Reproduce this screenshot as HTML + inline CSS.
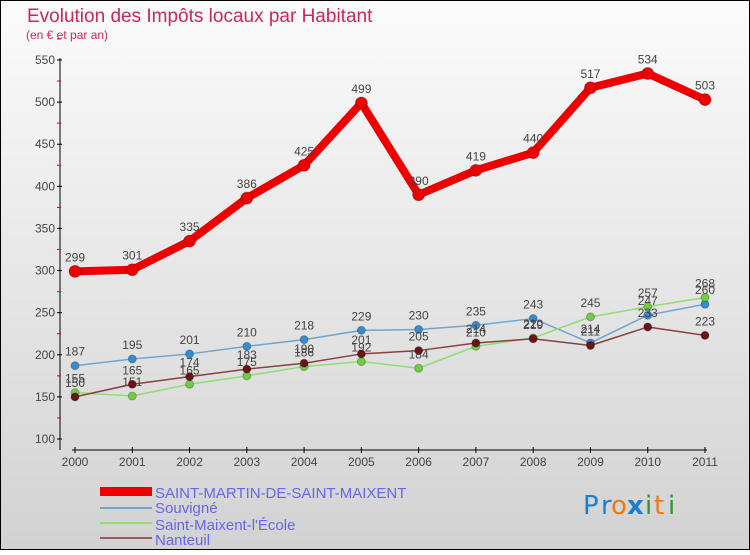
<!DOCTYPE html>
<html><head><meta charset="utf-8"><style>
body{margin:0}
#c{width:750px;height:550px;position:relative;font-family:"Liberation Sans",sans-serif;}
</style></head><body>
<div id="c">
<svg width="750" height="550" xmlns="http://www.w3.org/2000/svg" id="svg">
<defs><linearGradient id="bg" x1="0" y1="0" x2="0" y2="1"><stop offset="0" stop-color="#fbfbfb"/><stop offset="1" stop-color="#d2d2d2"/></linearGradient></defs>
<rect x="0.5" y="0.5" width="749" height="549" fill="url(#bg)" stroke="#000"/>
<text x="27" y="22" font-size="19" fill="#c8285a">Evolution des Impôts locaux par Habitant</text>
<text x="26" y="39" font-size="12" fill="#c8285a">(en € et par an)</text>
<g id="axes"></g><g id="series"></g>
<g>
<rect x="100" y="487" width="52" height="9" fill="#e00"/>
<line x1="100" y1="508" x2="152" y2="508" stroke="#6fa6d0" stroke-width="2"/>
<line x1="100" y1="523" x2="152" y2="523" stroke="#90dd70" stroke-width="2"/>
<line x1="100" y1="538" x2="152" y2="538" stroke="#9a5a5a" stroke-width="2"/>
<g font-size="15" fill="#6666ee">
<text x="155" y="498">SAINT-MARTIN-DE-SAINT-MAIXENT</text>
<text x="155" y="513">Souvigné</text>
<text x="155" y="530">Saint-Maixent-l'École</text>
<text x="155" y="545">Nanteuil</text>
</g></g>
<g font-size="26" font-family="'DejaVu Sans',sans-serif">
<text x="583" y="514" fill="#1b7fd0">P</text><text x="601" y="514" fill="#1b7fd0">r</text><text x="611" y="514" fill="#f07a10">o</text><text x="627" y="514" fill="#1b7fd0" font-weight="bold">x</text><text x="645" y="514" fill="#2a9a2a">i</text><text x="654" y="514" fill="#f07a10">t</text><text x="668" y="514" fill="#2a9a2a">i</text>
</g>
</svg></div>
<script>
const years=["2000","2001","2002","2003","2004","2005","2006","2007","2008","2009","2010","2011"];
const yTicks=[100,150,200,250,300,350,400,450,500,550];
const stMartin=[299,301,335,386,425,499,390,419,440,517,534,503];
const souvigne=[187,195,201,210,218,229,230,235,243,214,247,260];
const stMaixent=[155,151,165,175,186,192,184,210,220,245,257,268];
const nanteuil=[150,165,174,183,190,201,205,214,219,211,233,223];
const NS="http://www.w3.org/2000/svg";
function X(i){return 75+i*(705-75)/11;}
function Y(v){return 439-(v-100)*379/450;}
function mk(t,a,p){const e=document.createElementNS(NS,t);for(const k in a)e.setAttribute(k,a[k]);p.appendChild(e);return e;}
const ax=document.getElementById('axes');
mk('line',{x1:60,y1:58,x2:60,y2:450,stroke:'#000'},ax);
mk('line',{x1:72,y1:450,x2:707,y2:450,stroke:'#000'},ax);
yTicks.forEach(v=>{
 mk('line',{x1:57,y1:Y(v),x2:62,y2:Y(v),stroke:'#000'},ax);
 mk('line',{x1:57,y1:Y(v+25),x2:61,y2:Y(v+25),stroke:'#e00'},ax);
 const t=mk('text',{x:55,y:Y(v)+4,'font-size':12,fill:'#444','text-anchor':'end'},ax);
 t.textContent=v;
 
 
});
years.forEach((y,i)=>{
 mk('line',{x1:X(i),y1:447,x2:X(i),y2:453,stroke:'#000'},ax);
 const t=mk('text',{x:X(i),y:466,'font-size':12,fill:'#444','text-anchor':'middle'},ax);
 t.textContent=y;
 
 
});
const sg=document.getElementById('series');
function draw(vals,color,dot,w,r,name){
 const g=mk('g',{},sg);
 
 
 mk('polyline',{points:vals.map((v,i)=>X(i)+','+Y(v)).join(' '),fill:'none',stroke:color,'stroke-width':w,'stroke-linejoin':'round'},g);
 vals.forEach((v,i)=>{
  const c=mk('circle',{cx:X(i),cy:Y(v),r:r,fill:dot,stroke:'rgba(0,0,0,0.25)'},g);
  
  
  const t=mk('text',{x:X(i),y:Y(v)-10,'font-size':12,fill:'#444','text-anchor':'middle'},g);
  t.textContent=v;
  
  
 });
}
draw(stMartin,'#e00','#e00',8,6,'series-saint-martin');
draw(souvigne,'#6fa6d0','#3a8ad0',1.5,4,'series-souvigne');
draw(stMaixent,'#90dd70','#70cc40',1.5,4,'series-saint-maixent');
draw(nanteuil,'#8a4040','#6a1515',1.5,4,'series-nanteuil');
</script>
</body></html>
